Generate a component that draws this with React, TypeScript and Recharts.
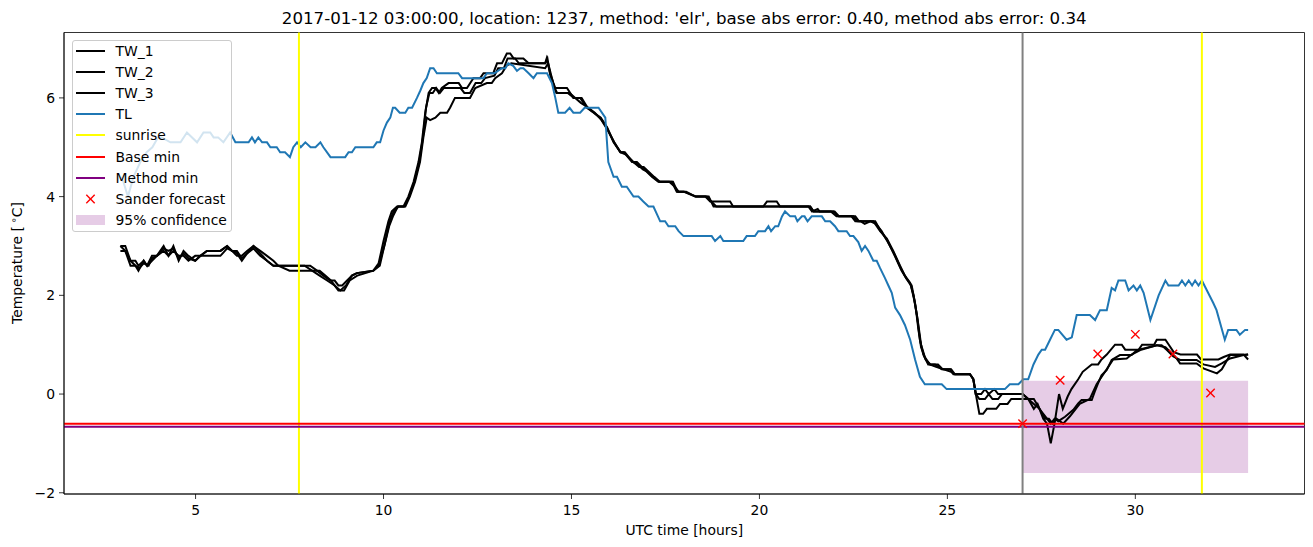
import React from 'react';
import { ComposedChart, Line, Scatter, XAxis, YAxis, ReferenceLine, ReferenceArea } from 'recharts';

const TITLE = "2017-01-12 03:00:00, location: 1237, method: 'elr', base abs error: 0.40, method abs error: 0.34";
const X_LABEL = 'UTC time [hours]';
const X_TICKS = [5, 10, 15, 20, 25, 30];
const Y_TICKS = [-2, 0, 2, 4, 6];
const X_DOMAIN = [1.5, 34.5];
const Y_DOMAIN = [-2.025, 7.325];

const SUNRISE = [7.75, 31.77];
const FORECAST_START = 27;
const BASE_MIN = -0.6;
const METHOD_MIN = -0.66;
const CONF_X = [27, 33];
const CONF_Y = [-1.6, 0.27];

const FORECAST_HOURS = [27, 28, 29, 30, 31, 32];
const FORECAST_VALUES = [-0.6, 0.28, 0.81, 1.21, 0.81, 0.02];

const TL = [
  [3.0, 4.4], [3.08, 4.3], [3.2, 4.0], [3.35, 4.4], [3.53, 4.7], [3.7, 4.9], [3.85, 5.0], [4.0, 5.2], [4.1, 5.2],
  [4.33, 5.1], [4.6, 5.1], [4.77, 5.3], [5.04, 5.1], [5.21, 5.3], [5.39, 5.3], [5.48, 5.2], [5.6, 5.2], [5.74, 5.1],
  [5.92, 5.3], [6.06, 5.1], [6.41, 5.1], [6.5, 5.2], [6.58, 5.1], [6.67, 5.2], [6.77, 5.1], [6.9, 5.1], [6.99, 5.0],
  [7.16, 5.0], [7.25, 4.9], [7.38, 4.9], [7.51, 4.8], [7.6, 5.0], [7.7, 5.1], [7.8, 5.0], [7.92, 5.1], [8.06, 5.0],
  [8.19, 5.0], [8.32, 5.1], [8.4, 5.0], [8.59, 4.8], [8.98, 4.8], [9.07, 4.9], [9.16, 4.9], [9.25, 5.0], [9.73, 5.0],
  [9.82, 5.1], [9.91, 5.1], [10.0, 5.34], [10.09, 5.5], [10.18, 5.6], [10.25, 5.8], [10.31, 5.8], [10.43, 5.7],
  [10.58, 5.7], [10.66, 5.8], [10.76, 5.8], [10.89, 6.0], [10.98, 6.15], [11.06, 6.3], [11.15, 6.4], [11.24, 6.6],
  [11.33, 6.6], [11.42, 6.5], [11.99, 6.5], [12.09, 6.4], [12.66, 6.4], [12.75, 6.5], [12.95, 6.5], [13.15, 6.6],
  [13.24, 6.6], [13.32, 6.7], [13.45, 6.65], [13.55, 6.55], [13.64, 6.6], [13.72, 6.6], [13.86, 6.5], [13.99, 6.4],
  [14.08, 6.5], [14.35, 6.5], [14.48, 6.3], [14.57, 6.0], [14.65, 5.7], [14.83, 5.7], [14.95, 5.8], [15.05, 5.7],
  [15.23, 5.7], [15.35, 5.8], [15.72, 5.8], [15.9, 5.6], [15.98, 4.7], [16.12, 4.4], [16.21, 4.4], [16.34, 4.2],
  [16.47, 4.2], [16.65, 4.0], [16.78, 4.0], [16.91, 3.9], [17.05, 3.8], [17.18, 3.8], [17.36, 3.5], [17.49, 3.5],
  [17.58, 3.4], [17.76, 3.4], [17.85, 3.3], [17.98, 3.2], [18.73, 3.2], [18.82, 3.1], [18.96, 3.2], [19.04, 3.1],
  [19.57, 3.1], [19.66, 3.2], [19.88, 3.2], [19.97, 3.3], [20.15, 3.3], [20.24, 3.4], [20.31, 3.3], [20.42, 3.4],
  [20.5, 3.4], [20.6, 3.6], [20.68, 3.7], [20.82, 3.6], [20.95, 3.6], [21.01, 3.5], [21.13, 3.6], [21.2, 3.6],
  [21.28, 3.5], [21.39, 3.6], [21.66, 3.6], [21.75, 3.5], [21.88, 3.5], [22.01, 3.4], [22.1, 3.3], [22.32, 3.3],
  [22.41, 3.2], [22.5, 3.2], [22.63, 3.08], [22.72, 2.9], [22.81, 3.0], [22.9, 2.9], [23.03, 2.7], [23.12, 2.7],
  [23.21, 2.55], [23.34, 2.35], [23.43, 2.2], [23.52, 2.05], [23.61, 1.75], [23.74, 1.6], [23.87, 1.4], [24.01, 1.1],
  [24.14, 0.7], [24.27, 0.35], [24.4, 0.2], [24.85, 0.2], [24.98, 0.1], [26.53, 0.1], [26.66, 0.2], [26.89, 0.2],
  [27.02, 0.3], [27.15, 0.3], [27.29, 0.6], [27.42, 0.8], [27.51, 0.9], [27.6, 0.9], [27.73, 1.1], [27.86, 1.3],
  [27.95, 1.3], [28.17, 1.1], [28.31, 1.15], [28.44, 1.6], [28.79, 1.6], [28.93, 1.5], [29.06, 1.7], [29.24, 1.7],
  [29.37, 2.15], [29.46, 2.1], [29.55, 2.3], [29.73, 2.3], [29.82, 2.1], [29.95, 2.2], [30.04, 2.1], [30.13, 2.2],
  [30.22, 2.05], [30.4, 1.5], [30.62, 2.0], [30.8, 2.3], [30.88, 2.2], [31.15, 2.2], [31.24, 2.3], [31.33, 2.2],
  [31.42, 2.3], [31.51, 2.2], [31.59, 2.3], [31.68, 2.2], [31.77, 2.3], [32.07, 1.85], [32.16, 1.7], [32.38, 1.1],
  [32.47, 1.3], [32.69, 1.3], [32.78, 1.2], [32.92, 1.3], [33.0, 1.3],
];

const TW_1 = [
  [3.0, 3.0], [3.13, 3.0], [3.27, 2.7], [3.4, 2.7], [3.48, 2.6], [3.62, 2.7], [3.71, 2.6], [3.84, 2.8], [3.97, 2.8],
  [4.15, 3.0], [4.28, 2.8], [4.41, 3.0], [4.55, 2.7], [4.68, 2.9], [4.81, 2.8], [4.99, 2.7], [5.13, 2.8], [5.3, 2.9],
  [5.66, 2.9], [5.84, 3.0], [5.97, 2.9], [6.1, 2.9], [6.23, 2.75], [6.37, 2.85], [6.54, 3.0], [6.72, 2.85], [6.9, 2.7],
  [7.07, 2.6], [7.34, 2.6], [8.05, 2.6], [8.23, 2.5], [8.4, 2.4], [8.58, 2.3], [8.7, 2.3], [8.8, 2.2], [8.9, 2.2],
  [9.03, 2.3], [9.16, 2.4], [9.29, 2.45], [9.73, 2.5], [9.87, 2.65], [10.0, 3.1], [10.13, 3.5], [10.22, 3.7],
  [10.36, 3.8], [10.53, 3.8], [10.66, 4.0], [10.8, 4.3], [10.93, 4.7], [11.02, 5.1], [11.11, 5.7], [11.2, 6.1],
  [11.29, 6.2], [11.38, 6.2], [11.47, 6.1], [11.55, 6.2], [11.73, 6.3], [12.0, 6.3], [12.09, 6.2], [12.22, 6.2],
  [12.39, 6.4], [12.57, 6.4], [12.66, 6.5], [12.92, 6.5], [13.02, 6.7], [13.15, 6.7], [13.28, 6.9], [13.37, 6.9],
  [13.46, 6.8], [13.55, 6.8], [13.72, 6.8], [13.86, 6.7], [13.99, 6.7], [14.3, 6.7], [14.34, 6.8], [14.43, 6.5],
  [14.52, 6.3], [14.57, 6.2], [14.88, 6.2], [15.05, 6.0], [15.23, 6.0], [15.41, 5.8], [15.59, 5.7], [15.76, 5.6],
  [15.94, 5.4], [16.12, 5.1], [16.3, 4.9], [16.39, 4.9], [16.61, 4.7], [16.74, 4.7], [16.87, 4.6], [17.01, 4.5],
  [17.14, 4.4], [17.31, 4.3], [17.67, 4.3], [17.8, 4.1], [17.98, 4.1], [18.29, 4.0], [18.56, 4.0], [18.69, 3.9],
  [19.22, 3.9], [19.3, 3.8], [20.1, 3.8], [20.2, 3.9], [20.46, 3.9], [20.55, 3.8], [21.35, 3.8], [21.44, 3.7],
  [21.97, 3.7], [22.1, 3.6], [22.5, 3.6], [22.6, 3.5], [23.03, 3.5], [23.21, 3.3], [23.39, 3.15], [23.56, 2.9],
  [23.74, 2.6], [23.87, 2.4], [24.01, 2.25], [24.1, 2.0], [24.19, 1.6], [24.27, 1.1], [24.36, 0.8], [24.49, 0.6],
  [24.67, 0.6], [24.85, 0.5], [25.07, 0.5], [25.16, 0.4], [25.6, 0.4], [25.69, 0.3], [25.75, 0.0], [25.9, 0.0],
  [26.0, 0.1], [26.1, 0.0], [26.25, 0.1], [26.35, 0.0], [27.0, 0.0], [27.15, -0.1], [27.3, -0.3], [27.4, -0.2],
  [27.55, -0.5], [27.65, -0.6], [27.75, -1.0], [27.85, -0.6], [27.97, 0.0], [28.07, -0.3], [28.2, -0.05],
  [28.3, 0.1], [28.48, 0.3], [28.6, 0.45], [28.84, 0.6], [29.01, 0.6], [29.1, 0.7], [29.24, 0.8], [29.46, 1.0],
  [29.64, 1.0], [29.73, 0.9], [30.09, 0.9], [30.18, 1.0], [30.5, 1.0], [30.57, 1.1], [30.8, 1.1], [30.89, 1.0],
  [31.02, 0.85], [31.2, 0.8], [31.64, 0.8], [31.75, 0.7], [32.21, 0.7], [32.35, 0.75], [32.52, 0.8], [32.88, 0.8],
  [33.0, 0.7],
];

const TW_2 = [
  [3.0, 2.9], [3.13, 2.9], [3.27, 2.7], [3.4, 2.6], [3.48, 2.5], [3.62, 2.7], [3.71, 2.6], [3.84, 2.7], [3.97, 2.8],
  [4.15, 2.9], [4.28, 2.8], [4.41, 2.9], [4.55, 2.8], [4.68, 2.8], [4.81, 2.7], [4.99, 2.8], [5.13, 2.8], [5.3, 2.9],
  [5.66, 2.9], [5.84, 3.0], [5.97, 2.9], [6.1, 2.8], [6.23, 2.8], [6.37, 2.9], [6.54, 3.0], [6.72, 2.9], [6.9, 2.8],
  [7.07, 2.7], [7.2, 2.6], [7.5, 2.5], [8.3, 2.5], [8.45, 2.4], [8.6, 2.3], [8.8, 2.1], [8.95, 2.1], [9.1, 2.3],
  [9.3, 2.4], [9.73, 2.5], [9.9, 2.6], [10.05, 3.1], [10.16, 3.5], [10.27, 3.7], [10.4, 3.8], [10.58, 3.8],
  [10.7, 4.0], [10.84, 4.3], [10.97, 4.7], [11.06, 5.2], [11.15, 5.6], [11.24, 5.55], [11.38, 5.6], [11.51, 5.7],
  [11.69, 5.7], [11.77, 5.8], [11.9, 6.0], [12.3, 6.0], [12.44, 6.2], [12.75, 6.3], [12.88, 6.3], [12.97, 6.4],
  [13.15, 6.5], [13.28, 6.66], [13.4, 6.7], [14.3, 6.6], [14.38, 6.7], [14.48, 6.4], [14.55, 6.2], [14.62, 6.1],
  [14.95, 6.1], [15.1, 6.0], [15.25, 5.9], [15.45, 5.8], [15.62, 5.7], [15.8, 5.55], [15.96, 5.35], [16.14, 5.1],
  [16.3, 4.9], [16.45, 4.85], [16.65, 4.7], [16.8, 4.6], [16.92, 4.6], [17.06, 4.5], [17.2, 4.4], [17.35, 4.3],
  [17.6, 4.3], [17.75, 4.2], [17.85, 4.1], [18.05, 4.1], [18.3, 4.0], [18.65, 4.0], [18.78, 3.8], [19.22, 3.8],
  [20.1, 3.8], [20.55, 3.8], [21.3, 3.8], [21.4, 3.7], [21.55, 3.75], [21.6, 3.7], [21.9, 3.7], [22.05, 3.6],
  [22.45, 3.6], [22.55, 3.5], [22.7, 3.5], [22.8, 3.45], [22.95, 3.5], [23.1, 3.45], [23.25, 3.3], [23.4, 3.1],
  [23.58, 2.85], [23.76, 2.55], [23.9, 2.35], [24.03, 2.2], [24.12, 1.9], [24.21, 1.5], [24.3, 1.0], [24.4, 0.75],
  [24.53, 0.6], [24.7, 0.55], [24.9, 0.5], [25.1, 0.45], [25.2, 0.4], [25.6, 0.4], [25.69, 0.3], [25.76, 0.0],
  [25.85, -0.1], [26.0, -0.1], [26.1, 0.0], [26.2, -0.1], [26.35, -0.1], [26.45, 0.0], [27.0, 0.0], [27.15, -0.1],
  [27.3, -0.1], [27.45, -0.3], [27.6, -0.5], [27.7, -0.5], [27.8, -0.6], [27.9, -0.5], [28.08, -0.6], [28.26, -0.45],
  [28.52, -0.2], [28.79, -0.1], [28.97, 0.2], [29.15, 0.4], [29.41, 0.7], [29.77, 0.72], [29.9, 0.8], [30.13, 0.89],
  [30.57, 0.99], [30.8, 0.95], [31.06, 0.76], [31.19, 0.62], [31.63, 0.62], [31.81, 0.52], [32.17, 0.42],
  [32.3, 0.5], [32.52, 0.79], [32.88, 0.79], [33.0, 0.8],
];

const TW_3 = [
  [3.0, 3.0], [3.13, 2.9], [3.27, 2.6], [3.4, 2.6], [3.5, 2.55], [3.62, 2.65], [3.75, 2.6], [3.84, 2.75], [3.97, 2.8],
  [4.15, 2.95], [4.28, 2.9], [4.41, 2.95], [4.55, 2.75], [4.68, 2.85], [4.81, 2.75], [4.99, 2.7], [5.13, 2.8],
  [5.3, 2.8], [5.66, 2.8], [5.84, 2.95], [5.97, 2.9], [6.1, 2.85], [6.23, 2.7], [6.37, 2.85], [6.54, 2.95],
  [6.72, 2.8], [6.9, 2.7], [7.07, 2.6], [7.34, 2.6], [7.9, 2.6], [8.1, 2.5], [8.3, 2.4], [8.5, 2.3], [8.7, 2.2],
  [8.85, 2.1], [9.0, 2.2], [9.16, 2.4], [9.29, 2.45], [9.73, 2.5], [9.87, 2.6], [10.02, 3.0], [10.15, 3.4],
  [10.25, 3.6], [10.38, 3.8], [10.55, 3.8], [10.68, 4.0], [10.82, 4.3], [10.95, 4.7], [11.05, 5.2], [11.13, 5.8],
  [11.22, 6.1], [11.31, 6.1], [11.4, 6.2], [11.5, 6.1], [11.6, 6.2], [11.75, 6.2], [12.05, 6.2], [12.15, 6.1],
  [12.3, 6.1], [12.45, 6.3], [12.6, 6.3], [12.7, 6.4], [12.95, 6.45], [13.05, 6.6], [13.2, 6.6], [13.3, 6.8],
  [13.5, 6.8], [13.6, 6.7], [14.3, 6.7], [14.36, 6.8], [14.45, 6.4], [14.55, 6.2], [14.6, 6.1], [14.9, 6.1],
  [15.07, 6.0], [15.27, 6.0], [15.43, 5.8], [15.6, 5.7], [15.78, 5.6], [15.95, 5.4], [16.13, 5.1], [16.31, 4.9],
  [16.42, 4.9], [16.63, 4.7], [16.76, 4.65], [16.9, 4.55], [17.03, 4.5], [17.16, 4.4], [17.33, 4.3], [17.7, 4.3],
  [17.82, 4.1], [18.0, 4.1], [18.32, 4.0], [18.6, 4.0], [18.72, 3.9], [18.85, 3.8], [19.3, 3.8], [21.35, 3.8],
  [21.44, 3.7], [22.0, 3.7], [22.12, 3.6], [22.55, 3.6], [22.65, 3.5], [23.08, 3.5], [23.23, 3.3], [23.41, 3.1],
  [23.6, 2.8], [23.78, 2.5], [23.9, 2.35], [24.05, 2.2], [24.15, 1.8], [24.23, 1.3], [24.3, 0.95], [24.42, 0.7],
  [24.55, 0.6], [24.75, 0.6], [24.88, 0.5], [25.1, 0.5], [25.2, 0.4], [25.6, 0.4], [25.69, 0.3], [25.78, -0.1],
  [25.85, -0.4], [25.95, -0.4], [26.05, -0.3], [26.3, -0.3], [26.4, -0.2], [26.6, -0.2], [26.7, -0.1], [27.0, -0.1],
  [27.15, -0.1], [27.3, -0.2], [27.45, -0.3], [27.55, -0.4], [27.65, -0.5], [27.75, -0.6], [27.85, -0.5],
  [27.95, -0.55], [28.13, -0.46], [28.35, -0.32], [28.48, -0.19], [28.57, -0.12], [28.84, -0.12], [28.92, 0.05],
  [29.01, 0.22], [29.1, 0.38], [29.24, 0.49], [29.37, 0.69], [29.59, 0.79], [29.9, 0.79], [30.04, 0.89],
  [30.57, 0.99], [30.7, 0.99], [30.84, 0.89], [31.01, 0.76], [31.19, 0.69], [31.63, 0.69], [31.81, 0.6],
  [32.12, 0.55], [32.3, 0.62], [32.52, 0.72], [32.88, 0.79], [33.0, 0.8],
];

const FONT = "'DejaVu Sans', sans-serif";
const BLUE = '#1f77b4';

const pts = (a: number[][]) => a.map(([x, y]) => ({ x, y }));
const forecastPts = FORECAST_HOURS.map((x, i) => ({ x, y: FORECAST_VALUES[i] }));
const fmt = (v: number) => String(v).replace('-', '\u2212');

const XMark = (props: any) => {
  const { cx, cy } = props;
  if (cx == null || cy == null) return null;
  const r = 4.2;
  return (
    <g>
      <line x1={cx - r} y1={cy - r} x2={cx + r} y2={cy + r} stroke="red" strokeWidth={1.4} />
      <line x1={cx - r} y1={cy + r} x2={cx + r} y2={cy - r} stroke="red" strokeWidth={1.4} />
    </g>
  );
};

const LEGEND = [
  { name: 'TW_1', kind: 'line', color: '#000000' },
  { name: 'TW_2', kind: 'line', color: '#000000' },
  { name: 'TW_3', kind: 'line', color: '#000000' },
  { name: 'TL', kind: 'line', color: BLUE },
  { name: 'sunrise', kind: 'line', color: '#ffff00' },
  { name: 'Base min', kind: 'line', color: '#ff0000' },
  { name: 'Method min', kind: 'line', color: '#800080' },
  { name: 'Sander forecast', kind: 'x', color: '#ff0000' },
  { name: '95% confidence', kind: 'patch', color: 'rgba(128,0,128,0.2)' },
];

const tickStyle = { fontSize: 13.9, fill: '#000', fontFamily: FONT };

export default function App() {
  return (
    <div style={{ position: 'absolute', left: 0, top: 0, width: 1313, height: 547, background: '#fff', fontFamily: FONT }}>
      <ComposedChart width={1313} height={547} margin={{ top: 32.5, right: 8.5, bottom: 0, left: 0 }}>
        <XAxis
          dataKey="x"
          type="number"
          domain={X_DOMAIN}
          ticks={X_TICKS}
          allowDataOverflow
          height={53}
          tick={tickStyle}
          tickSize={5}
          tickMargin={6}
          tickLine={{ stroke: '#000', strokeWidth: 0.8 }}
          axisLine={{ stroke: '#000', strokeWidth: 0.8 }}
          tickFormatter={fmt}
        />
        <YAxis
          dataKey="y"
          type="number"
          domain={Y_DOMAIN}
          ticks={Y_TICKS}
          allowDataOverflow
          width={64}
          tick={tickStyle}
          tickSize={5}
          tickMargin={4}
          tickLine={{ stroke: '#000', strokeWidth: 0.8 }}
          axisLine={{ stroke: '#000', strokeWidth: 0.8 }}
          tickFormatter={fmt}
        />
        <ReferenceArea x1={CONF_X[0]} x2={CONF_X[1]} y1={CONF_Y[0]} y2={CONF_Y[1]} fill="#800080" fillOpacity={0.2} stroke="none" />
        <Line data={pts(TW_1)} dataKey="y" type="linear" stroke="#000" strokeWidth={2} dot={false} isAnimationActive={false} />
        <Line data={pts(TW_2)} dataKey="y" type="linear" stroke="#000" strokeWidth={2} dot={false} isAnimationActive={false} />
        <Line data={pts(TW_3)} dataKey="y" type="linear" stroke="#000" strokeWidth={2} dot={false} isAnimationActive={false} />
        <Line data={pts(TL)} dataKey="y" type="linear" stroke={BLUE} strokeWidth={2} dot={false} isAnimationActive={false} />
        {SUNRISE.map((s) => (
          <ReferenceLine key={s} x={s} stroke="#ffff00" strokeWidth={2} />
        ))}
        <ReferenceLine y={BASE_MIN} stroke="#ff0000" strokeWidth={2} />
        <ReferenceLine y={METHOD_MIN} stroke="#800080" strokeWidth={2} />
        <ReferenceLine x={FORECAST_START} stroke="#808080" strokeWidth={2} />
        <Scatter data={forecastPts} dataKey="y" shape={XMark} isAnimationActive={false} />
        <ReferenceArea x1={X_DOMAIN[0]} x2={X_DOMAIN[1]} y1={Y_DOMAIN[0]} y2={Y_DOMAIN[1]} fill="none" stroke="#000" strokeWidth={0.8} />
      </ComposedChart>

      <div style={{ position: 'absolute', left: 64, width: 1240.5, top: 8, textAlign: 'center', fontSize: 16.67, lineHeight: '22px', color: '#000', whiteSpace: 'nowrap' }}>
        {TITLE}
      </div>
      <div style={{ position: 'absolute', left: 64, width: 1240.5, top: 521, textAlign: 'center', fontSize: 13.9, lineHeight: '18px', color: '#000' }}>
        {X_LABEL}
      </div>
      <div style={{ position: 'absolute', left: 18, top: 263, transform: 'translate(-50%, -50%) rotate(-90deg)', fontSize: 13.9, lineHeight: '18px', whiteSpace: 'nowrap', color: '#000' }}>
        Temperature [{'\u2009'}<span style={{ fontSize: '0.7em', position: 'relative', top: '-0.55em' }}>{'\u2218'}</span>C]
      </div>

      <div style={{ position: 'absolute', left: 71.5, top: 39.5, width: 160, height: 192, background: 'rgba(255,255,255,0.8)', border: '1px solid #cccccc', borderRadius: 3, boxSizing: 'border-box' }}>
        {LEGEND.map((e, i) => {
          const cy = 10.5 + i * 21.1;
          return (
            <div key={e.name} style={{ position: 'absolute', left: 0, top: cy - 10, height: 20, width: 158 }}>
              {e.kind === 'line' && (
                <div style={{ position: 'absolute', left: 3, top: 9, width: 29, height: 2, background: e.color }} />
              )}
              {e.kind === 'x' && (
                <svg style={{ position: 'absolute', left: 3, top: 0 }} width={29} height={20}>
                  <line x1={10.3} y1={5.8} x2={18.7} y2={14.2} stroke="red" strokeWidth={1.4} />
                  <line x1={10.3} y1={14.2} x2={18.7} y2={5.8} stroke="red" strokeWidth={1.4} />
                </svg>
              )}
              {e.kind === 'patch' && (
                <div style={{ position: 'absolute', left: 3, top: 5, width: 29, height: 10, background: e.color }} />
              )}
              <div style={{ position: 'absolute', left: 43, top: 0, lineHeight: '20px', fontSize: 13.9, color: '#000', whiteSpace: 'nowrap' }}>
                {e.name}
              </div>
            </div>
          );
        })}
      </div>
    </div>
  );
}
